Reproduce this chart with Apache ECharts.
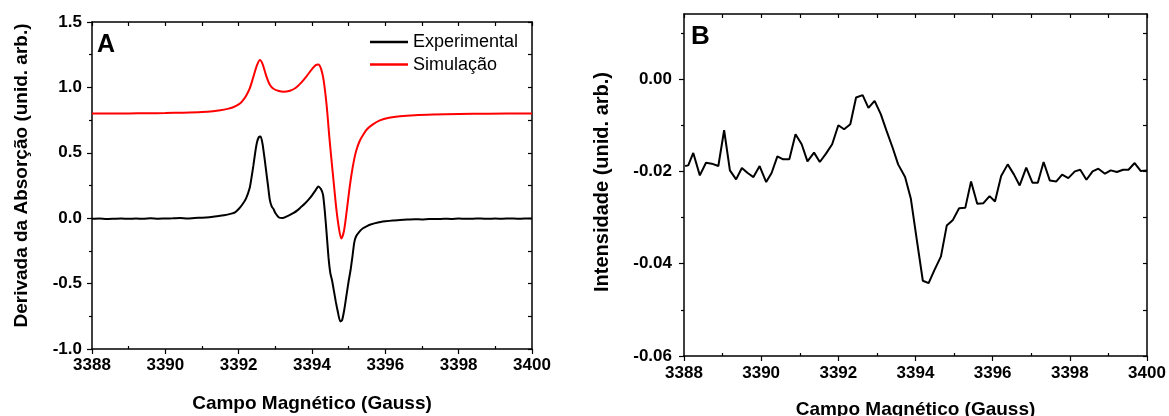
<!DOCTYPE html>
<html>
<head>
<meta charset="utf-8">
<script src="https://cdn.jsdelivr.net/npm/echarts@6/dist/echarts.min.js"></script>
<style>
html,body{margin:0;padding:0;background:#fff;}
#chart{width:1169px;height:416px;}
</style>
</head>
<body>
<div id="chart"></div>
<script>
// ---------- Panel A: Experimental ----------
const expX = [3388.0,3388.2,3388.4,3388.6,3388.8,3389.0,3389.2,3389.4,3389.6,3389.8,
  3390.0,3390.2,3390.4,3390.6,3390.8,3391.0,3391.2,3391.4,3391.6,3391.8,
  3391.9,3392.0,3392.1,3392.2,3392.3,3392.35,3392.4,3392.45,3392.5,3392.55,
  3392.6,3392.65,3392.7,3392.75,3392.8,3392.85,3392.9,3392.95,3393.0,3393.1,
  3393.2,3393.3,3393.4,3393.5,3393.6,3393.7,3393.8,3393.9,3394.0,3394.1,
  3394.17,3394.24,3394.3,3394.35,3394.4,3394.45,3394.5,3394.55,3394.6,3394.65,
  3394.7,3394.77,3394.82,3394.88,3394.94,3395.0,3395.05,3395.1,3395.15,3395.2,
  3395.3,3395.4,3395.5,3395.6,3395.8,3396.0,3396.2,3396.4,3396.6,3396.8,
  3397.0,3397.2,3397.4,3397.6,3397.8,3398.0,3398.2,3398.4,3398.6,3398.8,
  3399.0,3399.2,3399.4,3399.6,3399.8,3400.0];
const expY = [-0.005,-0.003,-0.006,-0.004,-0.002,-0.005,-0.003,-0.004,-0.001,-0.004,
  -0.002,-0.001,0.001,-0.002,0.002,0.004,0.008,0.015,0.022,0.035,
  0.045,0.07,0.105,0.15,0.23,0.31,0.40,0.50,0.58,0.62,
  0.625,0.57,0.47,0.36,0.25,0.14,0.09,0.07,0.04,0.005,
  0.002,0.012,0.025,0.04,0.06,0.085,0.11,0.14,0.175,0.215,
  0.243,0.225,0.18,0.05,-0.12,-0.30,-0.42,-0.48,-0.56,-0.64,
  -0.71,-0.79,-0.78,-0.70,-0.59,-0.48,-0.40,-0.30,-0.19,-0.14,
  -0.10,-0.075,-0.06,-0.048,-0.033,-0.024,-0.017,-0.013,-0.010,-0.008,
  -0.009,-0.006,-0.007,-0.004,-0.006,-0.003,-0.005,-0.004,-0.002,-0.005,
  -0.003,-0.004,-0.002,-0.004,-0.003,-0.003];

// ---------- Panel A: Simulação ----------
const simX = [3388.0,3388.5,3389.0,3389.5,3390.0,3390.5,3391.0,3391.3,3391.5,3391.7,
  3391.85,3392.0,3392.1,3392.2,3392.3,3392.4,3392.5,3392.58,3392.65,3392.75,
  3392.85,3392.95,3393.1,3393.22,3393.4,3393.55,3393.7,3393.85,3394.0,3394.1,
  3394.17,3394.25,3394.32,3394.4,3394.47,3394.53,3394.6,3394.66,3394.72,3394.8,
  3394.87,3394.94,3395.01,3395.08,3395.15,3395.21,3395.3,3395.4,3395.5,3395.65,
  3395.85,3396.1,3396.4,3396.8,3397.3,3398.0,3398.8,3400.0];
const simY = [0.800,0.800,0.801,0.802,0.804,0.807,0.812,0.818,0.825,0.836,
  0.848,0.87,0.895,0.935,0.99,1.08,1.17,1.21,1.18,1.09,
  1.02,0.99,0.972,0.967,0.975,0.995,1.035,1.085,1.14,1.17,
  1.175,1.14,1.05,0.86,0.63,0.45,0.25,0.08,-0.05,-0.155,
  -0.10,0.04,0.2,0.34,0.45,0.52,0.59,0.64,0.68,0.715,
  0.748,0.768,0.78,0.788,0.793,0.797,0.799,0.800];

// ---------- Panel B ----------
const bX = [3388.03,3388.11,3388.24,3388.41,3388.57,3388.72,3388.89,3389.04,3389.19,3389.35,
  3389.5,3389.65,3389.80,3389.96,3390.13,3390.27,3390.42,3390.57,3390.73,3390.89,
  3391.05,3391.2,3391.37,3391.52,3391.68,3391.84,3392.0,3392.15,3392.31,3392.46,
  3392.63,3392.78,3392.94,3393.1,3393.25,3393.41,3393.55,3393.73,3393.88,3394.03,
  3394.19,3394.34,3394.49,3394.66,3394.81,3394.97,3395.13,3395.29,3395.44,3395.6,
  3395.76,3395.92,3396.06,3396.22,3396.39,3396.55,3396.7,3396.87,3397.03,3397.17,
  3397.32,3397.48,3397.65,3397.8,3397.96,3398.13,3398.27,3398.43,3398.59,3398.74,
  3398.91,3399.06,3399.22,3399.38,3399.52,3399.68,3399.84,3400.0];
const bY = [-0.01884,-0.01870,-0.01601,-0.02087,-0.01812,-0.01833,-0.01884,-0.01109,-0.01978,-0.02174,
  -0.01928,-0.02036,-0.02123,-0.01884,-0.02232,-0.02036,-0.01674,-0.01739,-0.01739,-0.01196,
  -0.01413,-0.01783,-0.01594,-0.01797,-0.01616,-0.01413,-0.01000,-0.01087,-0.00978,-0.00399,
  -0.00348,-0.00623,-0.00471,-0.00761,-0.01123,-0.01493,-0.01848,-0.02123,-0.02594,-0.03464,
  -0.04370,-0.04420,-0.04138,-0.03841,-0.03174,-0.03051,-0.02797,-0.02790,-0.02217,-0.02703,
  -0.02688,-0.02536,-0.02652,-0.02101,-0.01848,-0.02065,-0.02304,-0.01920,-0.02246,-0.02246,
  -0.01797,-0.02196,-0.02217,-0.02072,-0.02145,-0.02000,-0.01964,-0.02181,-0.02000,-0.01942,
  -0.02051,-0.01978,-0.02014,-0.01964,-0.01964,-0.01819,-0.01993,-0.01978];

// ---------- Axis ticks ----------
const xMin = 3388, xMax = 3400;
const xMinorTicks = [3389,3391,3393,3395,3397,3399];
const aYMin = -1.0, aYMax = 1.5;
const bYMin = -0.06, bYMax = 0.0141;
const bYMajor = [-0.06,-0.04,-0.02,0.00];
const bYMinor = [-0.05,-0.03,-0.01,0.01];
const bYAll = [-0.06,-0.05,-0.04,-0.03,-0.02,-0.01,0.00,0.01];

const xTitle = 'Campo Magnético (Gauss)';
const aYTitle = 'Derivada da Absorção (unid. arb.)';
const bYTitle = 'Intensidade (unid. arb.)';

const zip = (xs, ys) => xs.map((x, i) => [x, ys[i]]);
const FONT = '"Liberation Sans", Arial, sans-serif';
const lineAx = {show: true, onZero: false, lineStyle: {color: '#000', width: 1.5}};
const lblStyle = {color: '#000', fontFamily: FONT, fontWeight: 'bold', fontSize: 17};
const nameStyle = {color: '#000', fontFamily: FONT, fontWeight: 'bold', fontSize: 19};
const noLbl = {show: false};
const noSplit = {show: false};
const tickLS = {color: '#000', width: 1.2};

const gA = {left: 92, top: 22, width: 440, height: 327, outerBoundsMode: 'none', containLabel: false};
const gB = {left: 684, top: 14, width: 463, height: 342, outerBoundsMode: 'none', containLabel: false};

const option = {
  animation: false,
  backgroundColor: '#fff',
  grid: [
    Object.assign({}, gA),
    Object.assign({}, gA),
    Object.assign({}, gB),
    Object.assign({}, gB)
  ],
  xAxis: [
    // 0: A bottom
    {type: 'value', gridIndex: 0, position: 'bottom', min: xMin, max: xMax, interval: 2,
     axisLine: lineAx, axisTick: {show: true, inside: false, length: 5, lineStyle: tickLS},
     axisLabel: Object.assign({margin: 8, formatter: v => String(v)}, lblStyle), splitLine: noSplit,
     name: xTitle, nameLocation: 'middle', nameGap: 45, nameMoveOverlap: false, nameTextStyle: nameStyle},
    // 1: A top
    {type: 'value', gridIndex: 0, position: 'top', min: xMin, max: xMax, interval: 1,
     axisLine: lineAx, axisTick: {show: true, inside: true, length: 4, lineStyle: tickLS},
     axisLabel: noLbl, splitLine: noSplit},
    // 2: A bottom minor
    {type: 'value', gridIndex: 1, position: 'bottom', min: xMin, max: xMax,
     axisLine: {show: false, onZero: false}, axisTick: {show: true, inside: true, length: 3, customValues: xMinorTicks, lineStyle: tickLS},
     axisLabel: noLbl, splitLine: noSplit},
    // 3: B bottom
    {type: 'value', gridIndex: 2, position: 'bottom', min: xMin, max: xMax, interval: 2,
     axisLine: lineAx, axisTick: {show: true, inside: false, length: 5, lineStyle: tickLS},
     axisLabel: Object.assign({margin: 9, formatter: v => String(v)}, lblStyle), splitLine: noSplit,
     name: xTitle, nameLocation: 'middle', nameGap: 44, nameMoveOverlap: false, nameTextStyle: nameStyle},
    // 4: B top
    {type: 'value', gridIndex: 2, position: 'top', min: xMin, max: xMax, interval: 1,
     axisLine: lineAx, axisTick: {show: true, inside: true, length: 4, lineStyle: tickLS},
     axisLabel: noLbl, splitLine: noSplit},
    // 5: B bottom minor
    {type: 'value', gridIndex: 3, position: 'bottom', min: xMin, max: xMax,
     axisLine: {show: false, onZero: false}, axisTick: {show: true, inside: true, length: 3, customValues: xMinorTicks, lineStyle: tickLS},
     axisLabel: noLbl, splitLine: noSplit}
  ],
  yAxis: [
    // 0: A left
    {type: 'value', gridIndex: 0, position: 'left', min: aYMin, max: aYMax, interval: 0.5,
     axisLine: lineAx, axisTick: {show: true, inside: false, length: 5, lineStyle: tickLS},
     minorTick: {show: true, splitNumber: 2, length: 3, lineStyle: tickLS},
     axisLabel: Object.assign({margin: 10, formatter: v => v.toFixed(1)}, lblStyle), splitLine: noSplit,
     name: aYTitle, nameLocation: 'middle', nameGap: 61, nameMoveOverlap: false,
     nameTextStyle: Object.assign({padding: [0, 0, 0, 20]}, nameStyle)},
    // 1: A right
    {type: 'value', gridIndex: 0, position: 'right', min: aYMin, max: aYMax, interval: 0.25,
     axisLine: lineAx, axisTick: {show: true, inside: true, length: 4, lineStyle: tickLS},
     axisLabel: noLbl, splitLine: noSplit},
    // 2: A hidden (grid 1)
    {type: 'value', gridIndex: 1, min: aYMin, max: aYMax, show: false},
    // 3: B left
    {type: 'value', gridIndex: 2, position: 'left', min: bYMin, max: bYMax,
     axisLine: lineAx, axisTick: {show: true, inside: false, length: 5, customValues: bYMajor, lineStyle: tickLS},
     axisLabel: Object.assign({margin: 12, customValues: bYMajor, formatter: v => v.toFixed(2)}, lblStyle), splitLine: noSplit,
     name: bYTitle, nameLocation: 'middle', nameGap: 72, nameMoveOverlap: false,
     nameTextStyle: Object.assign({padding: [0, 0, 0, 6]}, nameStyle, {fontSize: 20})},
    // 4: B right
    {type: 'value', gridIndex: 2, position: 'right', min: bYMin, max: bYMax,
     axisLine: lineAx, axisTick: {show: true, inside: true, length: 4, customValues: bYAll, lineStyle: tickLS},
     axisLabel: noLbl, splitLine: noSplit},
    // 5: B left minor (grid 3)
    {type: 'value', gridIndex: 3, position: 'left', min: bYMin, max: bYMax,
     axisLine: {show: false, onZero: false}, axisTick: {show: true, inside: false, length: 3, customValues: bYMinor, lineStyle: tickLS},
     axisLabel: noLbl, splitLine: noSplit}
  ],
  legend: {
    data: ['Experimental', 'Simulação'],
    orient: 'vertical', left: 370, top: 33, padding: 0,
    icon: 'rect', itemWidth: 38, itemHeight: 2.5, itemGap: 4.6,
    textStyle: {color: '#000', fontFamily: FONT, fontSize: 18, lineHeight: 18}
  },
  graphic: [
    {type: 'text', left: 97, top: 33, style: {text: 'A', fill: '#000', font: 'bold 25px "Liberation Sans", Arial, sans-serif'}},
    {type: 'text', left: 691, top: 24, style: {text: 'B', fill: '#000', font: 'bold 26px "Liberation Sans", Arial, sans-serif'}}
  ],
  series: [
    {name: 'Experimental', type: 'line', xAxisIndex: 0, yAxisIndex: 0, data: zip(expX, expY),
     showSymbol: false, symbol: 'none', smooth: 0.2, lineStyle: {color: '#000', width: 2}, itemStyle: {color: '#000'}},
    {name: 'Simulação', type: 'line', xAxisIndex: 0, yAxisIndex: 0, data: zip(simX, simY),
     showSymbol: false, symbol: 'none', smooth: 0.3, lineStyle: {color: '#ff0000', width: 2}, itemStyle: {color: '#ff0000'}},
    {name: 'B', type: 'line', xAxisIndex: 3, yAxisIndex: 3, data: zip(bX, bY),
     showSymbol: false, symbol: 'none', lineStyle: {color: '#000', width: 2}, itemStyle: {color: '#000'}}
  ]
};
const chart = echarts.init(document.getElementById('chart'), null, {renderer: 'canvas'});
chart.setOption(option);
</script>
</body>
</html>
